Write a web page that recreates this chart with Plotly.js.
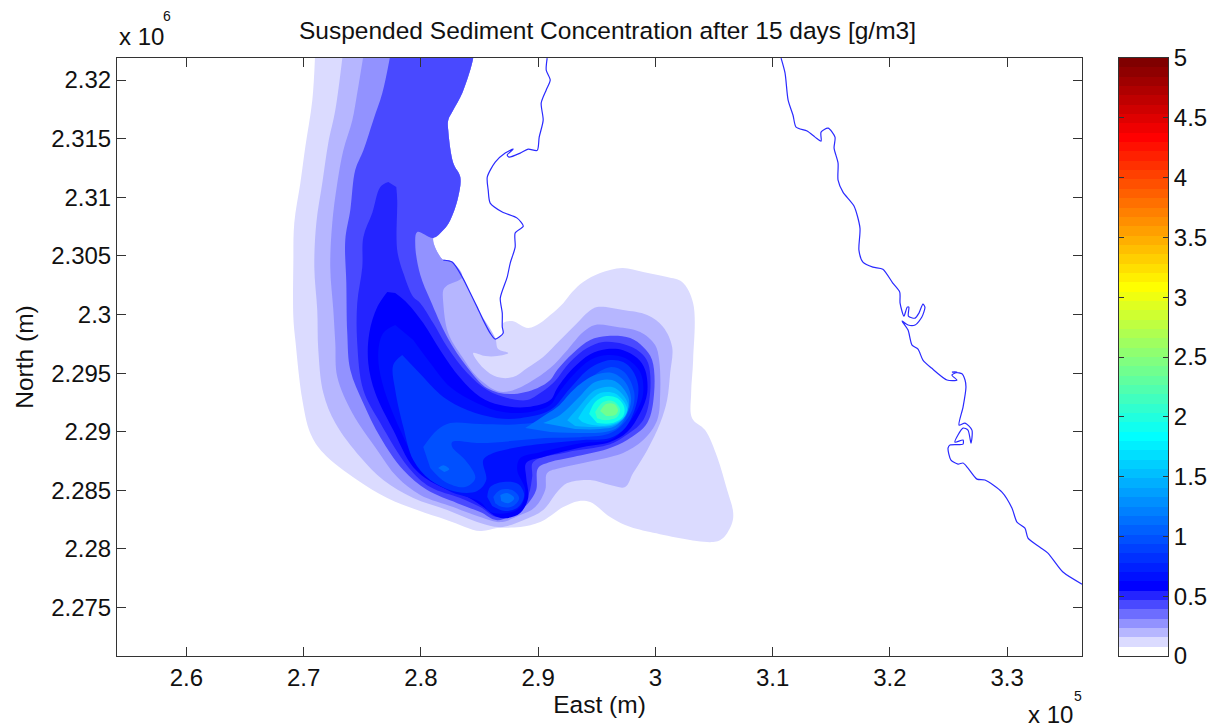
<!DOCTYPE html>
<html><head><meta charset="utf-8">
<script src="https://cdn.plot.ly/plotly-3.0.1.min.js"></script>
<style>html,body{margin:0;padding:0;background:#fff}#chart{width:1215px;height:727px}</style>
</head><body><div id="chart"></div>
<script>
// All positions in km (East / North); the axes are in metres.
const shoreEast=[286.34,285.06,284.21,283.53,282.67,281.91,281.05,281.91,282.50,283.18,283.36,282.76,282.33,282.33,282.76,283.53,284.46,284.46];
const shoreNorth=[2298.0,2300.12,2301.83,2303.19,2304.47,2304.64,2306.52,2307.2,2308.05,2310.02,2311.72,2312.92,2315.73,2316.58,2317.44,2318.89,2321.87,2322.55];

const l1E=[270.99,270.74,270.14,269.72,269.20,269.12,269.12,269.29,269.89,270.57,271.68,274.57,277.13,279.69,282.25,285.06,286.51,288.47,290.18,292.14,293.41,294.44,296.14,297.42,299.55,304.92,305.78,306.54,306.63,306.12,305.27,304.24,303.13,303.05,303.22,303.22,302.28,301.0,298.96,297.17,295.29,293.84,292.90,292.14,291.03,290.18,289.15,287.79,287.02,286.94];
const l1N=[2322.55,2318.29,2314.28,2311.21,2307.80,2304.39,2299.78,2297.82,2292.70,2289.88,2288.18,2285.88,2284.34,2283.32,2282.46,2281.53,2281.78,2281.87,2282.29,2283.57,2284.08,2284.0,2282.72,2282.04,2281.44,2280.59,2280.93,2282.21,2283.15,2285.02,2287.84,2290.14,2291.16,2293.30,2296.11,2300.97,2302.77,2303.19,2303.62,2303.96,2303.53,2302.77,2301.91,2300.97,2299.95,2299.27,2298.84,2299.44,2299.27,2298.42];
const l2E=[273.38,272.70,272.10,271.59,271.08,270.91,271.16,271.25,271.68,272.70,274.83,276.79,279.35,282.25,285.06,286.77,288.73,290.43,291.62,292.48,294.44,296.14,297.42,298.10,299.30,300.41,301.0,301.26,301.43,300.66,299.30,297.25,295.03,294.27,293.33,291.88,290.43,289.07,287.87,286.51,285.32,284.46,285.49,286.51,287.45,286.59];
const l2N=[2322.55,2317.44,2314.62,2311.21,2307.80,2304.04,2300.38,2296.96,2293.30,2290.74,2287.84,2285.88,2284.34,2283.32,2282.21,2281.87,2282.46,2283.32,2284.85,2285.62,2285.88,2285.45,2285.28,2286.47,2288.43,2290.74,2292.70,2295.0,2297.22,2298.93,2299.95,2300.38,2300.63,2300.21,2299.27,2297.82,2296.37,2295.43,2294.66,2294.66,2295.43,2296.71,2296.45,2296.45,2296.71,2297.05];
const l3E=[275.17,274.57,274.15,273.38,272.87,272.44,272.27,272.53,272.70,272.87,274.15,276.28,277.98,279.95,282.76,285.06,286.77,288.47,289.75,290.60,290.77,291.88,293.84,296.14,297.25,298.96,300.15,300.41,300.32,299.98,298.70,296.74,294.86,293.84,292.48,291.03,289.32,287.62,286.51,284.80,283.53,282.33,281.91,281.91,282.16];
const l3N=[2322.55,2318.89,2316.58,2314.0,2311.21,2307.80,2304.04,2300.38,2297.56,2294.66,2291.59,2288.43,2286.13,2284.60,2283.57,2282.72,2282.29,2282.89,2283.57,2285.02,2286.47,2286.90,2287.33,2287.84,2288.18,2289.29,2290.99,2293.30,2296.11,2297.39,2298.50,2298.93,2299.10,2298.50,2296.96,2295.43,2294.24,2293.47,2293.47,2294.66,2296.37,2298.42,2300.97,2302.08,2302.42];
const l4E=[277.47,276.71,275.94,275.09,274.40,273.98,273.55,273.64,273.72,273.98,275.09,276.54,278.50,280.54,283.10,285.06,286.51,288.21,289.15,289.83,290.0,291.03,292.99,295.89,297.59,299.30,299.89,299.72,298.96,297.85,295.89,294.44,292.99,291.62,291.03,289.92,287.62,285.66,283.95,282.25,280.80,279.95,279.52,279.69];
const l4N=[2322.55,2318.89,2316.58,2314.0,2312.32,2308.91,2306.35,2302.68,2298.42,2295.26,2292.44,2289.54,2286.73,2285.02,2283.91,2283.15,2282.46,2283.15,2283.91,2285.02,2286.90,2287.41,2287.84,2288.52,2289.29,2290.74,2293.30,2296.11,2297.22,2297.99,2298.16,2297.82,2296.71,2295.26,2294.41,2293.72,2293.21,2293.72,2295.51,2298.07,2301.23,2303.36,2305.92,2307.03];
const l5E=[277.22,276.54,275.85,275.09,275.0,274.57,274.57,275.09,276.54,278.92,280.80,283.36,285.06,286.51,287.87,289.07,289.49,289.58,292.48,295.89,297.25,298.96,299.55,299.38,298.70,297.25,295.54,294.18,292.73,291.28,289.92,289.07,287.36,285.66,283.95,282.25,281.05,279.95,279.35,278.50,277.98,277.98,277.90];
const l5N=[2311.30,2310.87,2308.65,2306.60,2304.04,2300.97,2297.56,2293.55,2290.74,2286.98,2285.28,2284.34,2283.57,2282.72,2283.49,2284.43,2286.13,2287.41,2288.26,2288.86,2289.54,2290.99,2293.30,2295.86,2296.79,2297.48,2297.65,2297.14,2295.94,2294.15,2293.13,2292.70,2292.87,2293.55,2295.0,2297.22,2299.27,2300.97,2301.49,2303.53,2305.49,2309.76,2310.87];
const l6E=[277.13,276.28,275.60,275.51,276.11,277.64,279.35,281.39,283.98,285.32,286.51,287.36,288.47,289.15,288.98,288.98,290.43,293.84,296.14,297.59,298.70,299.30,299.13,298.45,297.25,295.89,294.44,292.99,291.62,291.03,289.07,286.77,285.06,283.36,281.65,280.20,278.84,277.81];
const l6N=[2301.91,2300.63,2298.42,2295.86,2293.30,2290.14,2286.98,2285.45,2284.43,2283.57,2282.72,2282.63,2283.06,2284.34,2286.13,2287.33,2287.84,2288.69,2289.12,2289.97,2291.59,2293.30,2295.26,2296.28,2296.96,2297.05,2296.62,2295.43,2293.72,2292.70,2292.10,2292.27,2292.96,2294.58,2296.96,2299.27,2300.97,2301.83];
const l7E=[277.81,276.79,276.36,276.71,278.24,279.95,282.25,285.06,285.91,287.36,288.47,288.90,288.21,288.47,290.18,293.84,296.14,297.25,298.45,298.96,298.70,297.42,295.89,294.44,292.99,291.62,291.03,289.32,287.02,284.80,282.50,280.80,279.35];
const l7N=[2299.10,2298.42,2296.71,2294.15,2290.14,2286.98,2285.02,2284.0,2283.15,2283.06,2283.57,2285.02,2286.73,2287.75,2288.26,2289.03,2289.29,2290.14,2291.85,2293.30,2295.09,2296.28,2296.54,2296.11,2294.83,2293.13,2292.27,2291.68,2291.68,2292.44,2293.81,2295.86,2297.82];
const l8E=[278.41,277.64,277.81,278.50,279.35,280.80,283.10,284.80,285.57,285.32,286.17,287.87,291.03,293.84,296.14,297.42,298.36,298.53,298.02,297.25,296.14,294.44,292.73,291.03,288.47,286.51,283.95,281.91,280.20];
const l8N=[2296.54,2295.69,2293.55,2290.40,2287.58,2285.88,2284.85,2284.94,2285.88,2287.58,2288.18,2288.61,2289.03,2289.29,2289.46,2290.31,2292.27,2293.98,2295.26,2295.94,2296.11,2295.43,2293.72,2291.85,2291.16,2291.16,2291.85,2292.96,2294.66];
const l8bE=[285.66,285.91,287.02,288.30,288.81,288.30,287.19,286.08];
const l8bN=[2284.43,2285.28,2285.71,2285.54,2284.60,2283.57,2283.23,2283.66];
const l9E=[280.20,281.39,282.50,285.06,288.47,291.03,292.73,294.44,296.14,297.34,298.19,298.02,297.17,295.97,293.59,290.60,287.62,285.06,282.67,282.67,283.78,284.64,283.78,282.08,280.80];
const l9N=[2288.69,2290.14,2290.74,2290.65,2290.65,2291.16,2292.87,2294.58,2295.51,2295.09,2293.38,2291.85,2290.57,2289.80,2289.54,2289.46,2289.20,2289.03,2289.12,2288.69,2287.58,2286.05,2285.28,2285.71,2286.90];
const l9bE=[286.17,286.77,287.79,288.38,287.87,286.94,286.34];
const l9bN=[2284.43,2285.02,2285.02,2284.34,2283.66,2283.57,2283.91];
const l10E=[288.90,290.18,291.62,293.16,294.86,296.31,297.42,297.93,297.68,296.83,295.72,293.59,291.03];
const l10N=[2290.31,2291.16,2292.10,2293.72,2294.83,2295.0,2294.24,2292.87,2291.68,2290.40,2289.97,2289.89,2289.97];
const l10bE=[286.77,287.36,287.96,287.45,286.85];
const l10bN=[2284.60,2284.77,2284.34,2283.91,2284.09];
const l10cE=[281.48,281.91,282.42,281.99];
const l10cN=[2286.90,2287.15,2286.81,2286.56];
const l11E=[290.43,291.88,293.41,294.86,296.31,297.25,297.76,297.51,296.57,295.29,293.16];
const l11N=[2290.74,2291.42,2292.87,2294.24,2294.41,2293.72,2292.70,2291.51,2290.48,2290.23,2290.23];
const l12E=[292.48,293.41,294.86,296.31,297.17,297.68,297.42,296.48,294.86,293.16];
const l12N=[2290.99,2292.02,2293.55,2293.81,2293.21,2292.27,2291.33,2290.57,2290.40,2290.48];
const l13E=[293.41,294.27,295.29,296.48,297.34,297.59,297.17,296.14,294.61,293.75];
const l13N=[2291.16,2292.44,2293.30,2293.30,2292.53,2291.85,2291.08,2290.57,2290.57,2290.82];
const l14E=[294.35,294.86,295.80,296.74,297.34,297.25,296.31,295.03];
const l14N=[2291.51,2292.53,2293.04,2292.87,2292.10,2291.33,2290.74,2290.74];
const l15E=[294.86,295.55,296.40,296.99,296.74,295.72,295.03];
const l15N=[2291.68,2292.53,2292.61,2291.93,2291.25,2290.99,2291.16];
const l16E=[295.29,295.80,296.48,296.82,296.57,295.80];
const l16N=[2291.76,2292.36,2292.36,2291.85,2291.42,2291.34];

const riverE=[290.77,290.69,291.03,290.69,290.26,290.43,290.09,289.92,289.15,288.47,287.53,287.36,287.87,287.19,286.34,285.66,285.74,285.91,286.94,288.21,288.73,288.04,288.04,287.62,287.36,286.77,286.94,286.94,287.02,286.34,285.91,285.32,284.80,284.21,283.53,282.67,281.91];
const riverN=[2321.87,2320.85,2320.0,2319.15,2318.03,2316.58,2315.13,2314.0,2314.11,2313.77,2313.43,2313.6,2314.11,2313.77,2313.0,2311.72,2310.61,2309.5,2308.74,2308.22,2307.54,2306.95,2305.75,2304.39,2303.19,2301.4,2300.12,2298.93,2298.41,2297.9,2298.41,2299.52,2300.63,2301.83,2303.19,2304.47,2304.64];
const eastCoastE=[310.72,311.06,311.32,311.74,312.0,312.94,313.62,314.13,314.13,314.73,315.32,315.24,315.58,315.58,316.0,316.94,317.45,317.36,317.70,318.55,319.40,320.25,320.84,320.87,321.20,321.48,321.62,321.58,322.15,322.48,322.82,322.99,322.73,322.15,321.55,321.04,321.55,321.89,322.40,322.82,323.55,324.87,325.72,325.29,325.72,325.29,325.38,326.15,326.41,326.49,326.24,325.90,326.41,327.0,326.92,326.66,326.24,325.55,326.24,326.24,325.13,324.96,325.21,325.81,326.24,326.66,327.43,328.11,329.56,330.41,330.84,331.52,331.78,332.80,333.48,334.76,336.39];
const eastCoastN=[2321.87,2320.59,2318.29,2317.0,2315.98,2315.65,2315.13,2314.79,2315.56,2315.90,2315.13,2314.19,2312.92,2311.46,2310.44,2309.25,2307.37,2305.49,2304.47,2304.04,2303.87,2302.68,2301.91,2300.97,2299.86,2300.63,2300.63,2299.86,2299.69,2300.12,2300.89,2300.63,2299.78,2299.10,2299.10,2299.44,2298.67,2297.39,2297.05,2296.11,2295.43,2294.41,2294.41,2294.83,2295.09,2295.09,2295.09,2294.94,2294.41,2293.81,2292.10,2290.57,2290.74,2290.14,2289.03,2290.14,2290.31,2289.12,2289.29,2288.95,2288.87,2288.61,2287.58,2287.24,2287.33,2286.90,2285.96,2285.88,2284.85,2283.49,2282.29,2281.78,2280.93,2280.15,2279.65,2278.03,2277.0];

const xTicks=[260,270,280,290,300,310,320,330];
const xTickText=['2.6','2.7','2.8','2.9','3','3.1','3.2','3.3'];
const yTicks=[2275,2280,2285,2290,2295,2300,2305,2310,2315,2320];
const yTickText=['2.275','2.28','2.285','2.29','2.295','2.3','2.305','2.31','2.315','2.32'];
const barTicks=[0,0.5,1,1.5,2,2.5,3,3.5,4,4.5,5];
const barTickText=['0','0.5','1','1.5','2','2.5','3','3.5','4','4.5','5'];

const FONT='"Liberation Sans", Arial, sans-serif';
const km=a=>a.map(v=>v*1000);
const withShore=(e,n,from)=>[e.concat(shoreEast.slice(from)),n.concat(shoreNorth.slice(from))];
const bands=[
 [...withShore(l1E,l1N,0),'#dbdbff'],
 [...withShore(l2E,l2N,0),'#b6b6ff'],
 [...withShore(l3E,l3N,3),'#9292ff'],
 [...withShore(l4E,l4N,6),'#4949ff'],
 [l5E,l5N,'#2424ff'],[l6E,l6N,'#0000ff'],[l7E,l7N,'#0010ff'],
 [l8E,l8N,'#0034ff'],[l8bE,l8bN,'#0034ff'],
 [l9E,l9N,'#0050ff'],[l9bE,l9bN,'#0050ff'],
 [l10E,l10N,'#0070ff'],[l10bE,l10bN,'#0070ff'],[l10cE,l10cN,'#0070ff'],
 [l11E,l11N,'#0098ff'],[l12E,l12N,'#00b8ff'],[l13E,l13N,'#00d8ff'],
 [l14E,l14N,'#10ffe8'],[l15E,l15N,'#40ffc0'],[l16E,l16N,'#70ff90']
];
const traces=bands.map(([e,n,c])=>({type:'scatter',mode:'lines',x:km(e),y:km(n),fill:'toself',fillcolor:c,
  line:{width:0,shape:'spline',smoothing:1,color:c},hoverinfo:'skip',showlegend:false}));
[[riverE,riverN],[eastCoastE,eastCoastN]].forEach(([e,n])=>traces.push({type:'scatter',mode:'lines',x:km(e),y:km(n),
  line:{width:1.2,color:'#2a2aff',shape:'spline',smoothing:0.7},hoverinfo:'skip',showlegend:false}));

// 64-step colour map: white to blue, then jet
const clamp=v=>Math.max(0,Math.min(1,v));
const cmap=[];
for(let i=0;i<64;i++){
  let r,g,b;
  if(i<8){r=g=1-i/7;b=1;}
  else{const v=(i+1)/64;r=clamp(Math.min(4*v-1.5,-4*v+4.5));g=clamp(Math.min(4*v-.5,-4*v+3.5));b=clamp(Math.min(4*v+.5,-4*v+2.5));}
  cmap.push(`rgb(${Math.round(r*255)},${Math.round(g*255)},${Math.round(b*255)})`);
}
const barIdx=cmap.map((c,i)=>i);
traces.push({type:'heatmap',xaxis:'x2',yaxis:'y2',x:[0],y:barIdx.map(i=>(i+0.5)*5/64),z:barIdx.map(i=>[i]),
  zmin:0,zmax:63,colorscale:cmap.map((c,i)=>[i/63,c]),showscale:false,hoverinfo:'skip'});

const tf={family:FONT,size:24,color:'#111'};
const axis={showgrid:false,zeroline:false,showline:true,linecolor:'#333',linewidth:1,ticks:'inside',tickcolor:'#333',tickwidth:1,ticklen:9,mirror:'ticks',tickfont:tf,tickmode:'array'};
const W=1051.5;
const layout={width:1215,height:727,margin:{l:116.5,r:47,t:58,b:71},paper_bgcolor:'#fff',plot_bgcolor:'#fff',showlegend:false,
 font:{family:FONT,color:'#111'},
 title:{text:'Suspended Sediment Concentration after 15 days [g/m3]',x:607.5/1215,xanchor:'center',y:1-30/727,yanchor:'middle',font:{family:FONT,size:24.5,color:'#111'}},
 xaxis:{...axis,domain:[0,965.5/W],range:[254080,336390],tickvals:km(xTicks),ticktext:xTickText,title:{text:'East (m)',font:{family:FONT,size:24.5,color:'#111'},standoff:1}},
 yaxis:{...axis,domain:[0,1],range:[2270870,2321880],tickvals:km(yTicks),ticktext:yTickText,title:{text:'North (m)',font:{family:FONT,size:24.5,color:'#111'},standoff:10}},
 xaxis2:{...axis,anchor:'y2',domain:[1002.5/W,1],range:[-0.5,0.5],ticks:'',tickvals:[],ticktext:[],showticklabels:false,mirror:true},
 yaxis2:{...axis,anchor:'x2',side:'right',range:[0,5],tickvals:barTicks,ticktext:barTickText,ticklen:5,mirror:'ticks'},
 annotations:[
  {text:'x 10',xref:'paper',yref:'paper',x:0,y:1,xanchor:'left',yanchor:'bottom',yshift:6,showarrow:false,font:tf},
  {text:'6',xref:'paper',yref:'paper',x:(167-116.5)/W,y:1,xanchor:'center',yanchor:'bottom',yshift:32,showarrow:false,font:{family:FONT,size:14,color:'#111'}},
  {text:'x 10',xref:'paper',yref:'paper',x:(1026-116.5)/W,y:0,xanchor:'left',yanchor:'top',yshift:-43,showarrow:false,font:tf},
  {text:'5',xref:'paper',yref:'paper',x:(1078-116.5)/W,y:0,xanchor:'center',yanchor:'top',yshift:-30,showarrow:false,font:{family:FONT,size:14,color:'#111'}}
 ]};
Plotly.newPlot('chart',traces,layout,{displayModeBar:false,responsive:false});
</script></body></html>
